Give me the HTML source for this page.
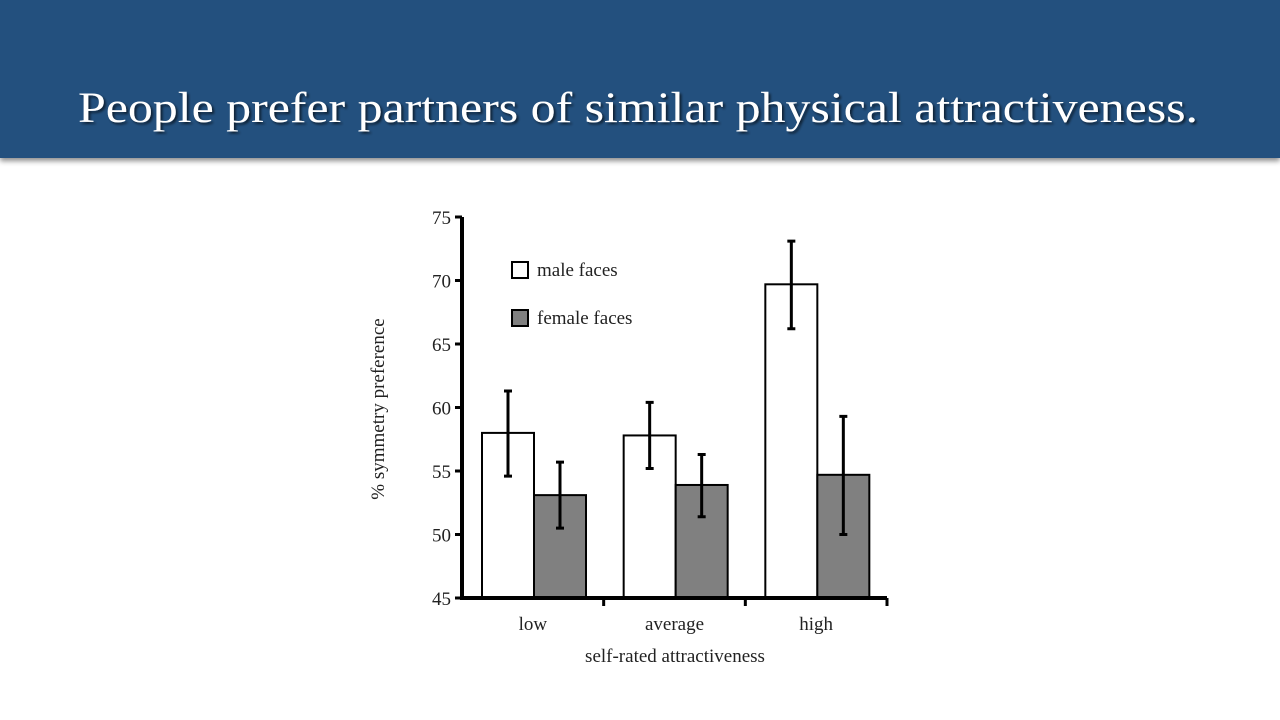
<!DOCTYPE html>
<html><head><meta charset="utf-8">
<style>
html,body{margin:0;padding:0;width:1280px;height:720px;overflow:hidden;background:#fff;}
.header{position:absolute;left:0;top:0;width:1280px;height:158px;background:#23507e;box-shadow:0 3px 5px rgba(0,0,0,0.45);}
</style></head>
<body>
<div class="header"></div>
<svg width="1280" height="720" style="position:absolute;left:0;top:0">
  <defs>
    <filter id="ts" x="-5%" y="-20%" width="110%" height="150%">
      <feDropShadow dx="2" dy="2" stdDeviation="1.2" flood-color="#000" flood-opacity="0.6"/>
    </filter>
  </defs>
  <text x="638" y="122" text-anchor="middle" font-family="'Liberation Serif',serif" font-size="43" fill="#fff" textLength="1120" lengthAdjust="spacingAndGlyphs" filter="url(#ts)">People prefer partners of similar physical attractiveness.</text>
  <g id="chart" font-family="'Liberation Serif',serif" fill="#222"></g>
</svg>
<script>
const categories = ["low","average","high"];
const maleValues = [58.0, 57.8, 69.7];
const femaleValues = [53.1, 53.9, 54.7];
const maleErrLow = [54.6, 55.2, 66.2];
const maleErrHigh = [61.3, 60.4, 73.1];
const femaleErrLow = [50.5, 51.4, 50.0];
const femaleErrHigh = [55.7, 56.3, 59.3];
const yTicks = [45,50,55,60,65,70,75];

const NS = "http://www.w3.org/2000/svg";
const g = document.getElementById('chart');
const x0 = 462, x1 = 887, yBase = 598, yTop = 217, yMin = 45, yMax = 75;
const y = v => yBase - (v - yMin) / (yMax - yMin) * (yBase - yTop);
const groupW = (x1 - x0) / categories.length;
const barW = 52;
function mk(tag, attrs){const e=document.createElementNS(NS,tag);for(const k in attrs)e.setAttribute(k,attrs[k]);g.appendChild(e);return e;}

categories.forEach((c,i)=>{
  const gx = x0 + i*groupW + 20;
  const series = [[maleValues[i],'#fff',maleErrLow[i],maleErrHigh[i],'male'],[femaleValues[i],'#808080',femaleErrLow[i],femaleErrHigh[i],'female']];
  series.forEach((s,j)=>{
    const bx = gx + j*barW;
    const r = mk('rect',{x:bx,y:y(s[0]),width:barW,height:yBase-y(s[0]),fill:s[1],stroke:'#000','stroke-width':2});
    
    
    const cx = bx + barW/2;
    const e = mk('path',{d:`M${cx},${y(s[2])}V${y(s[3])}M${cx-4},${y(s[2])}H${cx+4}M${cx-4},${y(s[3])}H${cx+4}`,stroke:'#000','stroke-width':3,fill:'none'});
    
    
  });
  const t = mk('text',{x:x0+(i+0.5)*groupW,y:630,'text-anchor':'middle','font-size':19});
  t.textContent = c;
  
  
  const tk = mk('line',{x1:x0+(i+1)*groupW,x2:x0+(i+1)*groupW,y1:yBase,y2:yBase+8,stroke:'#000','stroke-width':3});
  
  
});

yTicks.forEach(v=>{
  const l = mk('line',{x1:x0-7,x2:x0,y1:y(v),y2:y(v),stroke:'#000','stroke-width':3});
  
  
  const t = mk('text',{x:x0-11,y:y(v)+7,'text-anchor':'end','font-size':19});
  t.textContent = v;
  
  
});

const ya = mk('line',{x1:x0,x2:x0,y1:yTop,y2:yBase+2,stroke:'#000','stroke-width':4});


const xa = mk('line',{x1:x0-2,x2:x1,y1:yBase,y2:yBase,stroke:'#000','stroke-width':4});



const xt = mk('text',{x:675,y:662,'text-anchor':'middle','font-size':19});
xt.textContent = 'self-rated attractiveness';


const yt = mk('text',{x:0,y:0,'text-anchor':'middle','font-size':19,transform:'translate(384,409) rotate(-90)'});
yt.textContent = '% symmetry preference';



[['male faces','#fff',270],['female faces','#808080',318]].forEach(l=>{
  const r = mk('rect',{x:512,y:l[2]-8,width:16,height:16,fill:l[1],stroke:'#000','stroke-width':2});
  
  
  const t = mk('text',{x:537,y:l[2]+6,'font-size':19});
  t.textContent = l[0];
  
  
});
</script>
</body></html>
